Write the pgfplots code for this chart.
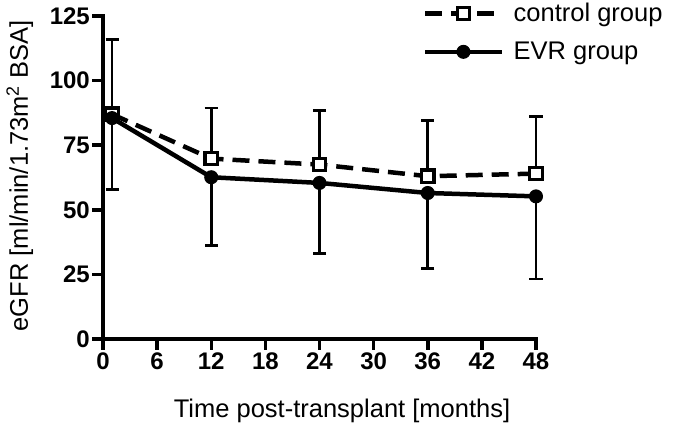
\documentclass[border=0pt]{standalone}
\usepackage{fontspec}
\setmainfont{Liberation Sans}
\usepackage{pgfplots}
\pgfplotsset{compat=1.18}
\usepackage{pgfplotstable}

\pgfplotstableread{
x y ey
1 87 29
12 69.8 19.6
24 67.5 21
36 63 21.5
48 64 22
}\control
\pgfplotstableread{
x y ey
1 85.5 27.5
12 62.6 26.5
24 60.4 27.2
36 56.5 29.3
48 55.2 32
}\evr

\begin{document}
\begin{tikzpicture}
\useasboundingbox (0,0) rectangle (674pt,428pt);
\begin{axis}[
  at={(103pt,89pt)}, anchor=south west,
  scale only axis, width=433pt, height=323pt,
  xmin=0, xmax=48, ymin=0, ymax=125,
  xtick={0,6,...,48}, ytick={0,25,...,125},
  axis x line*=bottom, axis y line*=left,
  axis line style={line width=4.5pt, line cap=rect},
  tick align=outside, major tick length=11pt,
  tick style={line width=3.5pt, black},
  /pgf/number format/assume math mode=true,
  ticklabel style={font=\fontsize{24}{24}\selectfont\bfseries},
  yticklabel style={inner sep=2pt},
  xticklabel style={inner sep=3pt},
  every axis x label/.style={at={(axis description cs:0.552,-0.223)}, anchor=center},
  every axis y label/.style={at={(axis description cs:-0.192,0.505)}, rotate=90, anchor=center},
  label style={font=\fontsize{25.5}{28}\selectfont},
  xlabel={Time post-transplant [months]},
  ylabel={eGFR [ml/min/1.73m\textsuperscript{2} BSA]},
  clip=false,
  legend style={draw=none, fill=none, at={(axis description cs:0.739,1.046)}, anchor=north west,
    font=\fontsize{25.5}{28}\selectfont, row sep=15pt, inner sep=0pt,
    /tikz/every odd column/.append style={column sep=7pt}},
  legend cell align=left,
  legend image code/.code={\draw[mark repeat=2,mark phase=2,#1] plot coordinates {(0pt,0pt)(38pt,0pt)(77pt,0pt)};},
]
\addplot[black, line width=4.5pt, dash pattern=on 17pt off 9pt,
  mark=square*, mark size=6.2pt, mark options={solid, fill=white, line width=3.2pt},
  error bars/.cd, y dir=plus, y explicit,
  error bar style={line width=2.8pt, solid},
  error mark options={rotate=90, mark size=6.5pt, line width=2.8pt, solid}]
  table[x=x, y=y, y error=ey] {\control};
\addlegendentry{control group}
\addplot[black, line width=4.5pt,
  mark=*, mark size=6.5pt, mark options={solid, fill=black, line width=1pt},
  error bars/.cd, y dir=minus, y explicit,
  error bar style={line width=2.8pt, solid},
  error mark options={rotate=90, mark size=6.5pt, line width=2.8pt, solid}]
  table[x=x, y=y, y error=ey] {\evr};
\addlegendentry{EVR group}
\end{axis}
\end{tikzpicture}
\end{document}
